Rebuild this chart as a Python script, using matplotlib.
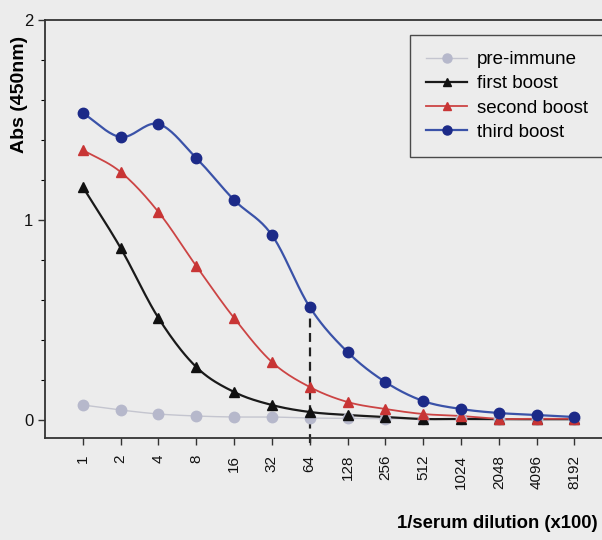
import numpy as np
import matplotlib
matplotlib.use("Agg")
import matplotlib.pyplot as plt
from matplotlib.lines import Line2D

plt.rcParams['font.family'] = ['Liberation Sans', 'DejaVu Sans']

dilutions = ["1", "2", "4", "8", "16", "32", "64", "128", "256", "512",
             "1024", "2048", "4096", "8192"]
pre_immune = [0.075, 0.05, 0.03, 0.02, 0.015, 0.015, 0.01, 0.008, 0.006, 0.005,
              0.005, 0.004, 0.004, 0.004]
first_boost = [1.165, 0.86, 0.51, 0.265, 0.14, 0.075, 0.04, 0.025, 0.015, 0.005,
               0.005, 0.004, 0.004, 0.004]
second_boost = [1.35, 1.24, 1.04, 0.77, 0.51, 0.29, 0.165, 0.09, 0.055, 0.03,
                0.02, 0.006, 0.006, 0.006]
third_boost = [1.535, 1.415, 1.48, 1.31, 1.10, 0.925, 0.565, 0.34, 0.19, 0.095,
               0.055, 0.035, 0.025, 0.015]
series_names = ["pre-immune", "first boost", "second boost", "third boost"]
cutoff_index = 6  # 64

BG = "#ececec"


def catmull_rom(x, y, n=20):
    x = np.asarray(x, float)
    y = np.asarray(y, float)
    px = np.concatenate([[2 * x[0] - x[1]], x, [2 * x[-1] - x[-2]]])
    py = np.concatenate([[2 * y[0] - y[1]], y, [2 * y[-1] - y[-2]]])
    outx, outy = [], []
    t = np.linspace(0, 1, n, endpoint=False)
    for i in range(1, len(px) - 2):
        for arr, out in ((px, outx), (py, outy)):
            p0, p1, p2, p3 = arr[i - 1], arr[i], arr[i + 1], arr[i + 2]
            out.extend(0.5 * ((2 * p1) + (-p0 + p2) * t
                              + (2 * p0 - 5 * p1 + 4 * p2 - p3) * t ** 2
                              + (-p0 + 3 * p1 - 3 * p2 + p3) * t ** 3))
    outx.append(x[-1])
    outy.append(y[-1])
    return np.array(outx), np.array(outy)


fig = plt.figure(figsize=(6.02, 5.40), dpi=100, facecolor=BG)
ax = fig.add_axes([45 / 602, 102 / 540, (602 - 45) / 602, 418 / 540])
ax.set_facecolor(BG)

xs = np.arange(len(dilutions))
styles = [
    (pre_immune, "#c4c5cf", "#b6b8cb", "o", 7.5, 1.0),
    (first_boost, "#1a1a1a", "#111111", "^", 7, 1.6),
    (second_boost, "#cc4444", "#c83535", "^", 7, 1.3),
    (third_boost, "#3a52a8", "#1c2a88", "o", 7.5, 1.6),
]
handles = []
for (vals, lc, mc, mk, ms, lw), name in zip(styles, series_names):
    sx, sy = catmull_rom(xs, vals)
    ax.plot(sx, sy, color=lc, lw=lw, zorder=2)
    ax.plot(xs, vals, ls="none", marker=mk, ms=ms, color=mc, mec=mc, zorder=3)
    handles.append(Line2D([0], [0], color=lc, lw=lw, marker=mk, ms=ms - 1,
                          mfc=mc, mec=mc))

ax.plot([xs[cutoff_index], xs[cutoff_index]], [-0.115, third_boost[cutoff_index]],
        color="#222222", ls=(0, (4, 2.5)), lw=1.6, zorder=1, clip_on=False)

ax.set_xlim(-1.0, 13.73)
ax.set_ylim(-0.09, 2.0)
ax.set_xticks(xs)
ax.set_xticklabels(dilutions, rotation=90, fontsize=11)
ax.set_yticks([0, 1, 2])
ax.set_yticklabels(["0", "1", "2"], fontsize=12)
ax.set_yticks(np.arange(0.2, 2.0, 0.2), minor=True)
ax.tick_params(axis="both", direction="out", length=5, width=1, colors="#333333",
               labelcolor="#111111")
ax.tick_params(axis="x", pad=7)
ax.tick_params(axis="y", which="minor", length=3, width=0.8)
for s in ["left", "bottom", "top"]:
    ax.spines[s].set_color("#333333")
    ax.spines[s].set_linewidth(1.3)
ax.spines["right"].set_visible(False)

fig.text(20 / 602, 1 - 94 / 540, "Abs (450nm)", rotation=90, ha="center",
         va="center", fontsize=14, fontweight="bold")
fig.text(598 / 602, 1 - 523 / 540, "1/serum dilution (x100)", ha="right", va="center",
         fontsize=13.3, fontweight="bold")

leg = fig.legend(handles, series_names, loc="upper left",
                 bbox_to_anchor=(410 / 602, 1 - 35 / 540, 193 / 602, 0.0),
                 mode="expand", fontsize=13.5,
                 frameon=True, fancybox=False, handlelength=2.2,
                 handletextpad=0.5, labelspacing=0.38, borderpad=0.85,
                 borderaxespad=0)
leg.get_frame().set_edgecolor("#222222")
leg.get_frame().set_facecolor(BG)
leg.get_frame().set_linewidth(1.0)

fig.savefig("out.png", dpi=100, facecolor=BG)
